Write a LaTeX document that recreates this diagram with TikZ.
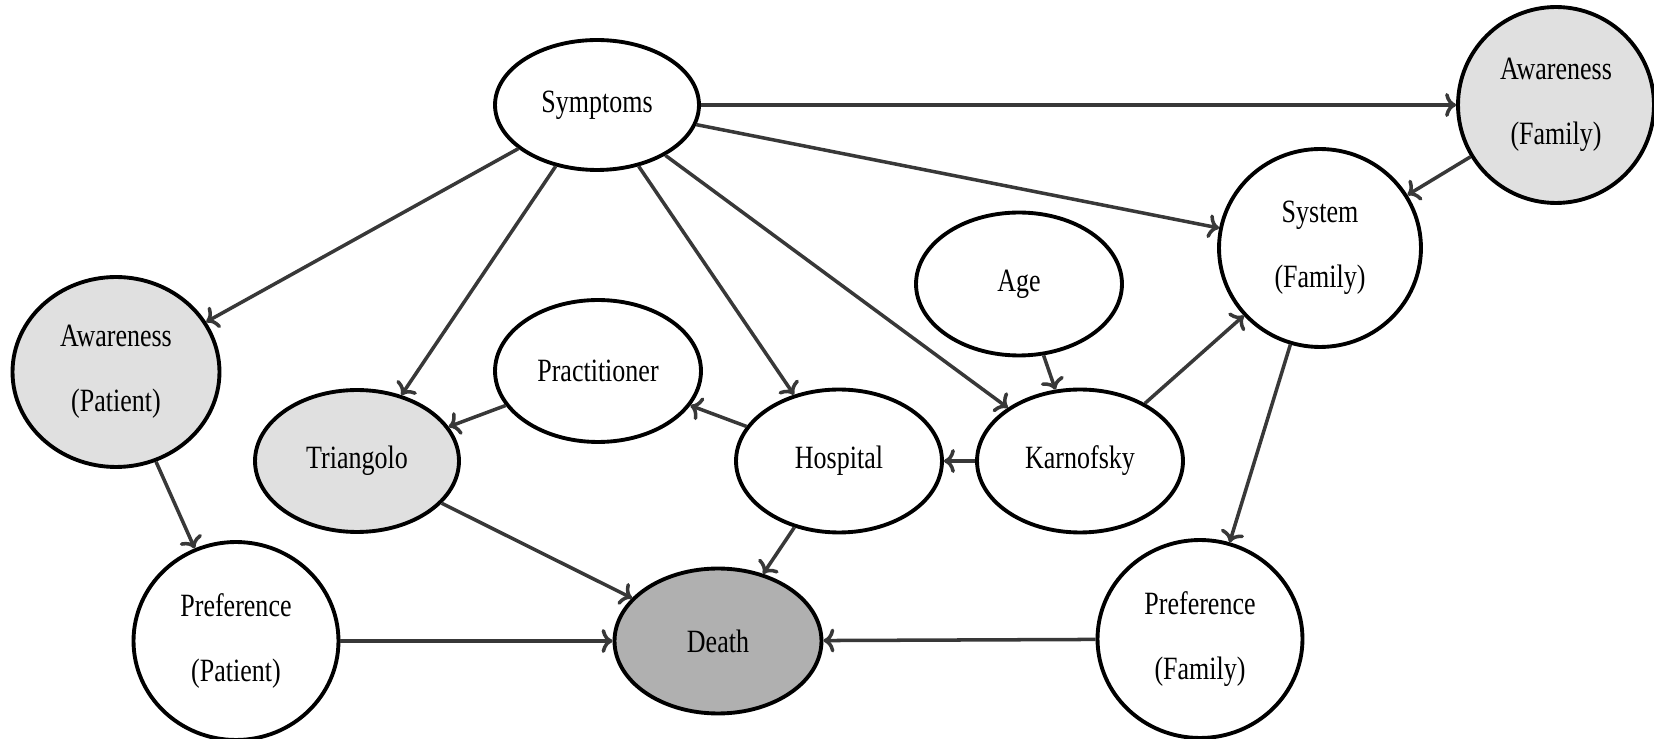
\documentclass[tikz,border=0pt]{standalone}
\usepackage{fontspec}
\setmainfont{Liberation Serif}[FakeStretch=0.8]
\usetikzlibrary{shapes.geometric}
\usetikzlibrary{arrows.meta}

\begin{document}
\begin{tikzpicture}[x=0.02cm,y=-0.02cm,
    var/.style={ellipse,draw=black,line width=2.2pt,fill=white,inner sep=0pt,
        align=center,font={\fontsize{18.5}{37}\selectfont}},
    obs/.style={var,fill=black!12},
    target/.style={var,fill=black!31},
    link/.style={draw=black!78,line width=2pt,-{To[length=2.2mm,width=4.8mm]}}]
    \useasboundingbox (0,0) rectangle (1654,739);

    % nodes
    \node[var,minimum width=4.08cm,minimum height=2.6cm] (Sy) at (597,105) {Symptoms};
    \node[obs,minimum width=3.92cm,minimum height=3.92cm] (AwF) at (1556,105) {Awareness\\(Family)};
    \node[var,minimum width=4.04cm,minimum height=3.96cm] (SyF) at (1320,248) {System\\(Family)};
    \node[var,minimum width=4.12cm,minimum height=2.86cm] (Age) at (1019,284) {Age};
    \node[obs,minimum width=4.14cm,minimum height=3.8cm] (AwP) at (116,372) {Awareness\\(Patient)};
    \node[var,minimum width=4.12cm,minimum height=2.84cm] (Pra) at (598,371) {Practitioner};
    \node[obs,minimum width=4.08cm,minimum height=2.84cm] (Tri) at (357,461) {Triangolo};
    \node[var,minimum width=4.12cm,minimum height=2.86cm] (Hos) at (839,461) {Hospital};
    \node[var,minimum width=4.12cm,minimum height=2.86cm] (Kar) at (1080,461) {Karnofsky};
    \node[var,minimum width=4.1cm,minimum height=3.96cm] (PrP) at (236,641) {Preference\\(Patient)};
    \node[target,minimum width=4.14cm,minimum height=2.9cm] (De) at (718,641) {Death};
    \node[var,minimum width=4.1cm,minimum height=3.96cm] (PrF) at (1200,639) {Preference\\(Family)};

    % edges
    \draw[link] (Sy) -- (AwF);
    \draw[link] (Sy) -- (SyF);
    \draw[link] (Sy) -- (AwP);
    \draw[link] (Sy) -- (Tri);
    \draw[link] (Sy) -- (Hos);
    \draw[link] (Sy) -- (Kar);
    \draw[link] (AwF) -- (SyF);
    \draw[link] (Age) -- (Kar);
    \draw[link] (Kar) -- (SyF);
    \draw[link] (Kar) -- (Hos);
    \draw[link] (Hos) -- (Pra);
    \draw[link] (Pra) -- (Tri);
    \draw[link] (Tri) -- (De);
    \draw[link] (Hos) -- (De);
    \draw[link] (PrP) -- (De);
    \draw[link] (PrF) -- (De);
    \draw[link] (AwP) -- (PrP);
    \draw[link] (SyF) -- (PrF);
\end{tikzpicture}
\end{document}
